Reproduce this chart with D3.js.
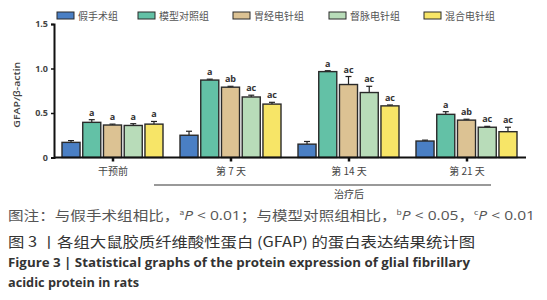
<!DOCTYPE html>
<html>
<head>
<meta charset="utf-8">
<script src="https://cdn.jsdelivr.net/npm/d3@7"></script>
<style>
  body { margin: 0; background: #fff; }
  text { font-family: "Noto Sans CJK SC", "Open Sans", sans-serif; }
</style>
</head>
<body>
<div id="chart"></div>
<script>
// categories and series
const stages = ["干预前", "第 7 天", "第 14 天", "第 21 天"];
const groups = ["假手术组", "模型对照组", "胃经电针组", "督脉电针组", "混合电针组"];
const colors = ["#4a7fc4", "#63c1a6", "#dcc293", "#b8dcb9", "#f7e567"];

// values per group, in stage order
const sham   = [0.17, 0.25, 0.15, 0.185];
const model  = [0.395, 0.87, 0.965, 0.485];
const gastric = [0.365, 0.79, 0.82, 0.42];
const governor = [0.36, 0.68, 0.73, 0.34];
const mixed  = [0.375, 0.60, 0.58, 0.29];
const values = [sham, model, gastric, governor, mixed];

// error bar (SD) per group
const shamErr   = [0.02, 0.045, 0.03, 0.01];
const modelErr  = [0.03, 0.01, 0.01, 0.03];
const gastricErr = [0.01, 0.01, 0.09, 0.01];
const governorErr = [0.02, 0.02, 0.07, 0.01];
const mixedErr  = [0.03, 0.02, 0.01, 0.05];
const errors = [shamErr, modelErr, gastricErr, governorErr, mixedErr];

// significance letters
const marks = [
  ["", "", "", ""],
  ["a", "a", "a", "a"],
  ["a", "ab", "ac", "ab"],
  ["a", "ac", "ac", "ac"],
  ["a", "ac", "ac", "ac"]
];

const yTicks = [0, 0.5, 1.0, 1.5];
const yTickLabels = ["0", "0.5", "1.0", "1.5"];

const width = 547, height = 300;
const svg = d3.select("#chart").append("svg")
  .attr("width", width).attr("height", height);

const x0 = d3.scaleBand().domain(stages).range([54, 526]).paddingInner(0).paddingOuter(0);
const x1 = d3.scaleBand().domain(groups).range([8, x0.bandwidth() - 9]).paddingInner(0.13);
const y = d3.scaleLinear().domain([0, 1.5]).range([157.5, 24]);

// bars
const data = [];
stages.forEach((s, si) => {
  groups.forEach((g, gi) => {
    data.push({ stage: s, group: g, gi: gi, v: values[gi][si], e: errors[gi][si], m: marks[gi][si] });
  });
});

const cell = svg.append("g").selectAll("g").data(data).join("g")
  .attr("transform", d => `translate(${x0(d.stage) + x1(d.group)},0)`);

// error bars
cell.append("line")
  .attr("x1", x1.bandwidth() / 2).attr("x2", x1.bandwidth() / 2)
  .attr("y1", d => y(d.v)).attr("y2", d => y(d.v + d.e))
  .attr("stroke", "#222").attr("stroke-width", 1.2);
cell.append("line")
  .attr("x1", x1.bandwidth() / 2 - 3).attr("x2", x1.bandwidth() / 2 + 3)
  .attr("y1", d => y(d.v + d.e)).attr("y2", d => y(d.v + d.e))
  .attr("stroke", "#222").attr("stroke-width", 1.2);

cell.append("rect")
  .attr("x", 0).attr("width", x1.bandwidth())
  .attr("y", d => y(d.v)).attr("height", d => y(0) - y(d.v))
  .attr("fill", d => colors[d.gi])
  .attr("stroke", "#2a2a2a").attr("stroke-width", 1.4);

cell.append("text")
  .attr("x", x1.bandwidth() / 2)
  .attr("y", d => y(d.v + d.e) - 4)
  .attr("text-anchor", "middle")
  .style("font-family", "'Open Sans', sans-serif")
  .style("font-size", "9px").style("font-weight", "bold")
  .attr("fill", "#333")
  .text(d => d.m);

// y axis
const yAxis = d3.axisLeft(y).tickValues(yTicks)
  .tickFormat((d, i) => yTickLabels[i]).tickSize(3).tickPadding(3);
const gy = svg.append("g").attr("transform", "translate(54,0)").call(yAxis);
gy.select(".domain").attr("stroke", "#111").attr("stroke-width", 2);
gy.selectAll(".tick line").attr("stroke", "#111").attr("stroke-width", 1.5);
gy.selectAll(".tick text")
  .style("font-family", "'Open Sans', sans-serif")
  .style("font-size", "9px").style("font-weight", "bold").attr("fill", "#444");

// x axis
const xAxis = d3.axisBottom(x0).tickSize(4).tickPadding(6);
const gx = svg.append("g").attr("transform", `translate(0,${y(0)})`).call(xAxis);
gx.select(".domain").attr("stroke", "#111").attr("stroke-width", 2).attr("d", `M54,0H526`);
gx.selectAll(".tick line").attr("stroke", "#111").attr("stroke-width", 2.5);
gx.selectAll(".tick text")
  .style("font-size", "10px").attr("fill", "#444");

// y label
svg.append("text")
  .attr("transform", `translate(20,${(y(0) + y(1.5)) / 2 + 4}) rotate(-90)`)
  .attr("text-anchor", "middle")
  .style("font-family", "'Open Sans', sans-serif")
  .style("font-size", "9.5px").style("font-weight", "600").attr("fill", "#444")
  .attr("textLength", 66).attr("lengthAdjust", "spacingAndGlyphs")
  .text("GFAP/β-actin");

// treatment bracket
const bx1 = x0("第 7 天") - 18, bx2 = x0("第 21 天") + x0.bandwidth() - 35;
svg.append("line").attr("x1", bx1).attr("x2", bx2).attr("y1", 185).attr("y2", 185)
  .attr("stroke", "#777").attr("stroke-width", 1.5);
svg.append("text")
  .attr("x", x0("第 14 天") + x0.bandwidth() / 2).attr("y", 198)
  .attr("text-anchor", "middle").style("font-size", "10px").attr("fill", "#444")
  .text("治疗后");

// legend
const legendX = [57, 138, 233, 329, 424];
const lg = svg.append("g").selectAll("g").data(groups).join("g")
  .attr("transform", (d, i) => `translate(${legendX[i]},12)`);
lg.append("rect").attr("width", 17).attr("height", 7)
  .attr("fill", (d, i) => colors[i]).attr("stroke", "#2a2a2a").attr("stroke-width", 1);
lg.append("text").attr("x", 21).attr("y", 7.5)
  .style("font-size", "10px").attr("fill", "#555").text(d => d);

// caption
const cap1 = svg.append("text").attr("x", 8).attr("y", 220)
  .style("font-size", "13px").attr("fill", "#555")
  .attr("textLength", 527).attr("lengthAdjust", "spacingAndGlyphs");
cap1.append("tspan").text("图注：与假手术组相比，");
cap1.append("tspan").attr("dy", -5).style("font-size", "7px").text("a");
cap1.append("tspan").attr("dy", 5).style("font-style", "italic").style("font-family", "'Open Sans', sans-serif").text("P");
cap1.append("tspan").style("font-family", "'Open Sans', sans-serif").text(" < 0.01");
cap1.append("tspan").text("；与模型对照组相比，");
cap1.append("tspan").attr("dy", -5).style("font-size", "7px").text("b");
cap1.append("tspan").attr("dy", 5).style("font-style", "italic").style("font-family", "'Open Sans', sans-serif").text("P");
cap1.append("tspan").style("font-family", "'Open Sans', sans-serif").text(" < 0.05");
cap1.append("tspan").text("，");
cap1.append("tspan").attr("dy", -5).style("font-size", "7px").text("c");
cap1.append("tspan").attr("dy", 5).style("font-style", "italic").style("font-family", "'Open Sans', sans-serif").text("P");
cap1.append("tspan").style("font-family", "'Open Sans', sans-serif").text(" < 0.01");

svg.append("text").attr("x", 8).attr("y", 247)
  .style("font-size", "14px").attr("fill", "#333")
  .attr("textLength", 467).attr("lengthAdjust", "spacingAndGlyphs")
  .text("图 3 丨各组大鼠胶质纤维酸性蛋白 (GFAP) 的蛋白表达结果统计图");

svg.append("text").attr("x", 8).attr("y", 267)
  .style("font-family", "'Open Sans', sans-serif")
  .style("font-size", "12.5px").style("font-weight", "bold").attr("fill", "#333")
  .attr("textLength", 462).attr("lengthAdjust", "spacingAndGlyphs")
  .text("Figure 3  |  Statistical graphs of the protein expression of glial fibrillary");

svg.append("text").attr("x", 8).attr("y", 287)
  .style("font-family", "'Open Sans', sans-serif")
  .style("font-size", "12.5px").style("font-weight", "bold").attr("fill", "#333")
  .attr("textLength", 131).attr("lengthAdjust", "spacingAndGlyphs")
  .text("acidic protein in rats");
</script>
</body>
</html>
